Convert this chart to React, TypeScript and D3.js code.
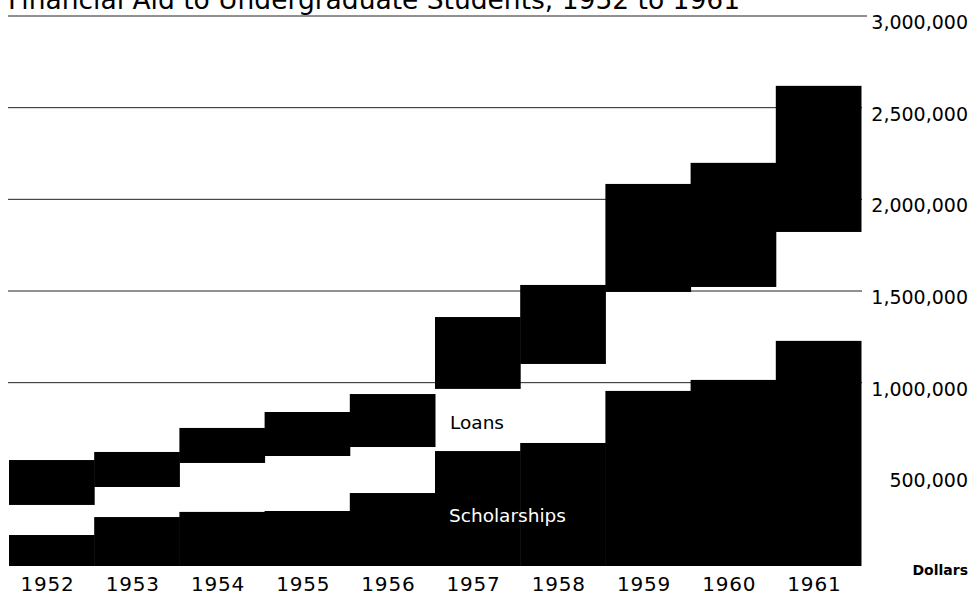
import React from "react";
import * as d3 from "d3";

const years = ["1952", "1953", "1954", "1955", "1956", "1957", "1958", "1959", "1960", "1961"];
const scholarships = [169000, 267000, 295000, 300000, 398000, 627000, 671000, 955000, 1015000, 1228000];
const loansLow = [333000, 431000, 562000, 600000, 649000, 966000, 1102000, 1495000, 1522000, 1822000];
const loansHigh = [578000, 622000, 753000, 840000, 938000, 1358000, 1533000, 2084000, 2199000, 2619000];
const gridValues = [3000000, 2500000, 2000000, 1500000, 1000000];
const tickValues = [3000000, 2500000, 2000000, 1500000, 1000000, 500000];
const title = "Financial Aid to Undergraduate Students, 1952 to 1961";

const W = 977;
const H = 597;
const FONT = "'DejaVu Sans', 'Liberation Sans', sans-serif";

export default function App() {
  const x = d3.scaleBand<string>().domain(years).range([9, 861]).padding(0);
  const y = d3.scaleLinear().domain([0, 3000000]).range([566, 16]);
  const fmt = d3.format(",");
  const bw = x.bandwidth();

  return (
    <svg
      width={W}
      height={H}
      viewBox={`0 0 ${W} ${H}`}
      style={{ position: "absolute", left: 0, top: 0, background: "#fff" }}
    >
      <rect x={0} y={0} width={W} height={H} fill="#fff" />
      <text
        x={8}
        y={9}
        fontFamily={FONT}
        fontSize={26.5}
        textLength={732}
        lengthAdjust="spacing"
        fill="#000"
      >
        {title}
      </text>
      {gridValues.map((v) => (
        <line
          key={"g" + v}
          x1={8}
          x2={v === 3000000 ? 867 : 862}
          y1={y(v)}
          y2={y(v)}
          stroke="#222"
          strokeWidth={1}
        />
      ))}
      {years.map((yr, i) => (
        <rect
          key={"s" + yr}
          x={x(yr)!}
          y={y(scholarships[i])}
          width={bw + 0.5}
          height={y(0) - y(scholarships[i])}
          fill="#000"
        />
      ))}
      {years.map((yr, i) => (
        <rect
          key={"l" + yr}
          x={x(yr)!}
          y={y(loansHigh[i])}
          width={bw + 0.5}
          height={y(loansLow[i]) - y(loansHigh[i])}
          fill="#000"
        />
      ))}
      <text
        x={x("1957")! + 15}
        y={(y(scholarships[5]) + y(loansLow[5])) / 2 + 2}
        dy="0.36em"
        fontFamily={FONT}
        fontSize={18.5}
        fill="#000"
      >
        Loans
      </text>
      <text
        x={x("1957")! + 14}
        y={515}
        dy="0.36em"
        fontFamily={FONT}
        fontSize={18.5}
        fill="#fff"
      >
        Scholarships
      </text>
      {tickValues.map((v) => (
        <text
          key={"t" + v}
          x={968}
          y={y(v) + 6}
          dy="0.36em"
          textAnchor="end"
          fontFamily={FONT}
          fontSize={19}
          fill="#000"
        >
          {fmt(v)}
        </text>
      ))}
      <text
        x={968}
        y={570}
        dy="0.36em"
        textAnchor="end"
        fontFamily={FONT}
        fontSize={14}
        fontWeight="bold"
        fill="#000"
      >
        Dollars
      </text>
      {years.map((yr) => (
        <text
          key={"y" + yr}
          x={x(yr)! + bw / 2 - 4}
          y={584}
          dy="0.36em"
          textAnchor="middle"
          fontFamily={FONT}
          fontSize={20}
          letterSpacing={0.8}
          fill="#000"
        >
          {yr}
        </text>
      ))}
    </svg>
  );
}
